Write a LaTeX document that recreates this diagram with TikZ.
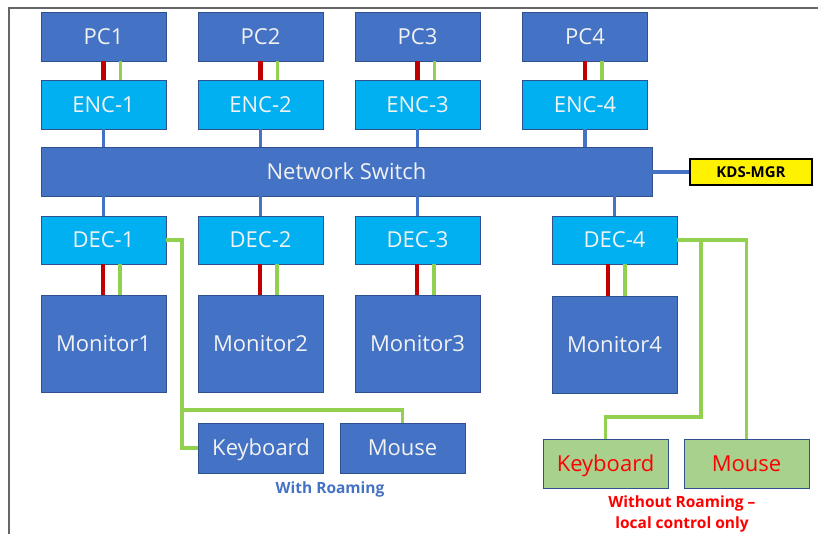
\documentclass[tikz,border=0pt]{standalone}
\usepackage{fontspec}
\setmainfont{Open Sans}
\definecolor{dblue}{HTML}{4472C4}
\definecolor{lblue}{HTML}{00B0F0}
\definecolor{bord}{HTML}{2F528F}
\definecolor{cred}{HTML}{C00000}
\definecolor{cgreen}{HTML}{92D050}
\definecolor{kgreen}{HTML}{A9D18E}
\definecolor{txtw}{HTML}{F2F2F2}
\definecolor{redtxt}{HTML}{FF0000}
\tikzset{
  box/.style={draw=bord, line width=0.8pt, text=txtw, font=\fontsize{22}{24}\selectfont, inner sep=0pt, minimum width=125pt, text height=15.5pt, text depth=0pt},
  pcbox/.style={box, fill=dblue, minimum height=49pt},
  encbox/.style={box, fill=lblue, minimum height=49pt},
  monbox/.style={box, fill=dblue, minimum height=97pt},
  kmbox/.style={box, fill=dblue, minimum height=50pt},
  gbox/.style={box, fill=kgreen, text=redtxt, minimum height=49pt},
  redl/.style={draw=cred, line width=4.5pt},
  greenl/.style={draw=cgreen, line width=3.5pt},
  bluel/.style={draw=dblue, line width=3.5pt},
}
\begin{document}
\begin{tikzpicture}[x=1pt,y=-1pt]
\useasboundingbox (0,0) rectangle (818,533);
\fill[white] (0,0) rectangle (818,533);
\draw[draw=gray!80!black, line width=2.5pt] (9,540) -- (9,8) -- (830,8);
% PCs
\node[pcbox] (pc1) at (103.5,36.5) {PC1};
\node[pcbox] (pc2) at (260.5,36.5) {PC2};
\node[pcbox] (pc3) at (417.5,36.5) {PC3};
\node[pcbox] (pc4) at (585,36.5) {PC4};
% ENCs
\node[encbox] (enc1) at (103.5,104.5) {ENC-1};
\node[encbox] (enc2) at (260.5,104.5) {ENC-2};
\node[encbox] (enc3) at (417.5,104.5) {ENC-3};
\node[encbox] (enc4) at (585,104.5) {ENC-4};
% switch
\node[box, fill=dblue, minimum width=611pt, minimum height=49pt] (sw) at (346.5,171.5) {Network Switch};
\node[draw=black, line width=2.5pt, fill=yellow, font=\bfseries\fontsize{15}{17}\selectfont, minimum width=122pt, minimum height=26pt, inner sep=0pt] (kds) at (751,172) {KDS-MGR};
% DECs
\node[encbox, minimum height=48pt] (dec1) at (103.5,240) {DEC-1};
\node[encbox, minimum height=48pt] (dec2) at (260.5,240) {DEC-2};
\node[encbox, minimum height=48pt] (dec3) at (417.5,240) {DEC-3};
\node[encbox, minimum height=48pt] (dec4) at (614.5,240) {DEC-4};
% monitors
\node[monbox] (m1) at (103.5,344) {Monitor1};
\node[monbox] (m2) at (260.5,344) {Monitor2};
\node[monbox] (m3) at (417.5,344) {Monitor3};
\node[monbox] (m4) at (614.5,344.5) {Monitor4};
% keyboard / mouse with roaming
\node[kmbox] (kb1) at (261,448) {Keyboard};
\node[kmbox] (ms1) at (402.5,448) {Mouse};
\node[text=dblue, font=\bfseries\fontsize{15.5}{18}\selectfont, inner sep=0pt] (wr) at (330,489) {With Roaming};
% without roaming
\node[gbox] (kb2) at (605.5,463.5) {Keyboard};
\node[gbox] (ms2) at (746.5,463.5) {Mouse};
\node[text=redtxt, font=\bfseries\fontsize{15.5}{21}\selectfont, align=center, inner sep=0pt] (wor) at (682,514) {Without Roaming –\\local control only};
% PC -> ENC
\foreach \a/\b in {pc1/enc1,pc2/enc2,pc3/enc3,pc4/enc4}{
  \draw[redl] (\a.south) -- (\b.north);
  \draw[greenl] ([xshift=17pt]\a.south) -- ([xshift=17pt]\b.north);
}
% ENC -> switch
\foreach \a in {enc1,enc2,enc3,enc4}{
  \draw[bluel] (\a.south) -- (\a.south |- sw.north);
}
% switch -> DEC
\foreach \a in {dec1,dec2,dec3,dec4}{
  \draw[bluel] (\a.north) -- (\a.north |- sw.south);
}
\draw[bluel] (sw.east |- kds.west) -- (kds.west);
% DEC -> monitor
\draw[redl] ([xshift=-0.5pt]dec1.south) -- ([xshift=-0.5pt]m1.north);
\draw[greenl] ([xshift=16.5pt]dec1.south) -- ([xshift=16.5pt]m1.north);
\draw[redl] ([xshift=-0.5pt]dec2.south) -- ([xshift=-0.5pt]m2.north);
\draw[greenl] ([xshift=16.5pt]dec2.south) -- ([xshift=16.5pt]m2.north);
\draw[redl] ([xshift=-0.5pt]dec3.south) -- ([xshift=-0.5pt]m3.north);
\draw[greenl] ([xshift=16.5pt]dec3.south) -- ([xshift=16.5pt]m3.north);
\draw[redl] ([xshift=-6.5pt]dec4.south) -- ([xshift=-6.5pt]m4.north);
\draw[greenl] ([xshift=10.5pt]dec4.south) -- ([xshift=10.5pt]m4.north);
% roaming K/M wiring
\coordinate (j1) at (182,410);
\draw[greenl] (dec1.east) -- (dec1.east -| j1) -- (j1 |- kb1.west) -- (kb1.west);
\draw[greenl] (j1) -- (j1 -| ms1.north) -- (ms1.north);
% local K/M wiring
\coordinate (j2) at (701,417);
\draw[greenl] (dec4.east) -- (dec4.east -| ms2.north) -- (ms2.north);
\draw[greenl] (dec4.east -| j2) -- (j2) -- (j2 -| kb2.north) -- (kb2.north);
\end{tikzpicture}
\end{document}
